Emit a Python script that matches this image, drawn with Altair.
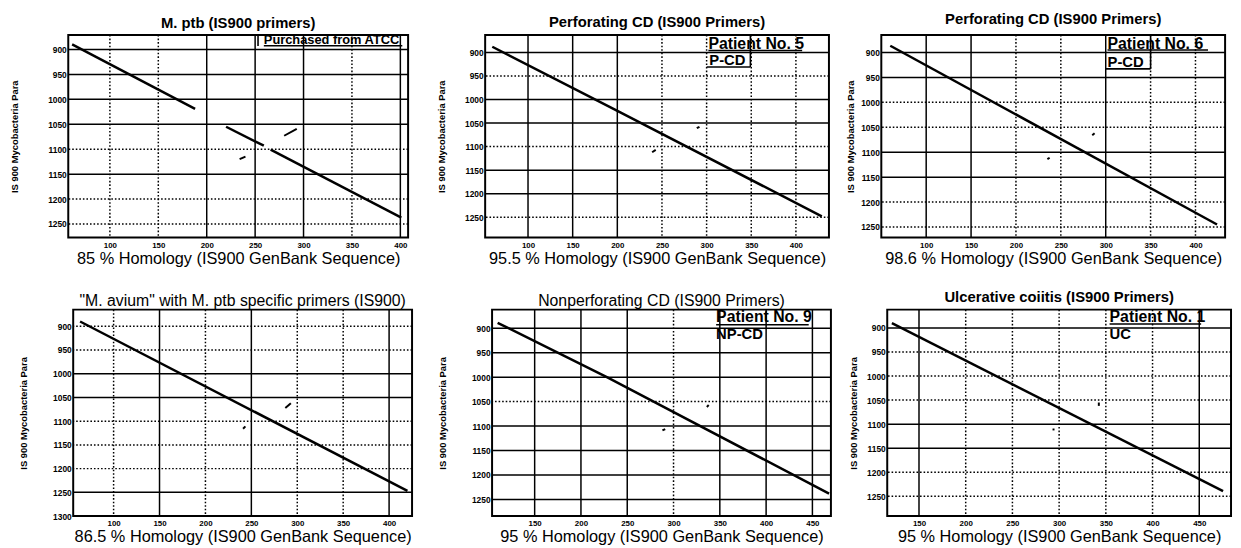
import altair as alt
import pandas as pd

FONT = "Liberation Sans"

# ---------------- data ----------------
TITLES = [
    "M. ptb (IS900 primers)",
    "Perforating CD (IS900 Primers)",
    "Perforating CD (IS900 Primers)",
    '"M. avium" with M. ptb specific primers (IS900)',
    "Nonperforating CD (IS900 Primers)",
    "Ulcerative coiitis (IS900 Primers)",
]
TITLE_WEIGHTS = ["bold", "bold", "bold", "normal", "normal", "bold"]
TITLE_SIZES = [15, 15, 15, 16, 16, 15]
XLABELS = [
    "85 % Homology (IS900 GenBank Sequence)",
    "95.5 % Homology (IS900 GenBank Sequence)",
    "98.6 % Homology (IS900 GenBank Sequence)",
    "86.5 % Homology (IS900 GenBank Sequence)",
    "95 % Homology (IS900 GenBank Sequence)",
    "95 % Homology (IS900 GenBank Sequence)",
]
YLABEL = "IS 900 Mycobacteria Para"

X_DOMAINS = [[57, 408], [52, 437], [50, 433], [56, 425], [104, 470], [116, 484]]
Y_DOMAINS = [[871, 1277], [863, 1293], [865, 1271], [865, 1300], [862, 1284], [862, 1291]]

XTICKS_A = [100, 150, 200, 250, 300, 350, 400]
XTICKS_B = [150, 200, 250, 300, 350, 400, 450]
YTICKS_A = [900, 950, 1000, 1050, 1100, 1150, 1200, 1250]
YTICKS_B = [900, 950, 1000, 1050, 1100, 1150, 1200, 1250, 1300]
XTICKS = [XTICKS_A, XTICKS_A, XTICKS_A, XTICKS_A, XTICKS_B, XTICKS_B]
YTICKS = [YTICKS_A, YTICKS_A, YTICKS_A, YTICKS_B, YTICKS_A, YTICKS_A]

# grid lines: solid / dotted
V_SOLID = [[200, 250, 300, 400], [100, 150, 200], [100, 150, 300], [150, 250, 400],
           [150, 200, 250, 350, 400, 450], [150, 450]]
V_DOTTED = [[100, 150, 350], [250, 300, 350, 400], [200, 250, 350, 400], [100, 200, 300, 350],
            [300], [200, 250, 300, 350, 400]]
H_SOLID = [[900, 950, 1000, 1050, 1150], [900, 1000, 1050, 1150, 1200], [900, 950, 1100, 1150],
           [1000, 1050, 1250], [900, 950, 1000, 1100, 1150, 1200, 1250], [900, 1100, 1150]]
H_DOTTED = [[1100, 1200, 1250], [950, 1100, 1250], [1000, 1050, 1200, 1250], [900, 950, 1100, 1150, 1200],
            [1050], [950, 1000, 1050, 1200, 1250]]

# main diagonal (x, y, segment id)
LINE_X = [[61, 188, 220, 259, 266, 401], [60, 199, 429], [60, 424], [63.5, 420],
          [110, 228, 468], [121, 475.5]]
LINE_Y = [[890, 1019, 1055, 1093, 1101, 1237], [888, 1023, 1248], [886.5, 1245], [890, 1247],
          [889, 1000, 1238], [890, 1239]]
LINE_SEG = [[0, 0, 1, 1, 2, 2], [0, 0, 0], [0, 0], [0, 0], [0, 0, 0], [0, 0]]

# short off-diagonal dashes
DASH_X1 = [[234, 280], [239, 289], [235, 285], [241, 287], [288, 336], [342.5, 294]]
DASH_Y1 = [[1120, 1073], [1112, 1061], [1114, 1066], [1116, 1072], [1109, 1061], [1055, 1109]]
DASH_X2 = [[240, 293], [243, 292], [237.5, 287.6], [243.5, 293], [291, 338], [342.5, 294]]
DASH_Y2 = [[1115, 1059], [1107, 1058], [1111, 1062], [1111, 1062], [1106, 1057], [1062, 1113]]

# annotation texts
ANN_TEXT = [["Purchased from ATCC"], ["Patient No. 5", "P-CD"], ["Patient No. 6", "P-CD"], [],
            ["Patient No. 9", "NP-CD"], ["Patient No. 1", "UC"]]
ANN_X = [[259], [302, 303], [302, 302], [], [346, 346], [354, 354]]
ANN_Y = [[882], [882, 917], [883, 918.7], [], [878, 912], [877, 912]]
ANN_SIZE = [[13], [16, 15], [16, 15], [], [16, 15], [16, 15]]
# annotation underline / box strokes
ANN_RX1 = [[259, 253], [302, 300, 349], [302, 300, 350], [], [346], [354]]
ANN_RY1 = [[892.6, 871], [896, 931, 863], [895, 933, 865], [], [893], [892]]
ANN_RX2 = [[402, 253], [407, 349, 349], [414, 350, 350], [], [446], [452]]
ANN_RY2 = [[892.6, 893], [896, 931, 931], [895, 933, 933], [], [893], [892]]

WIDTHS = [344, 348, 348, 343, 343, 348]
HEIGHTS = [205, 205, 205, 209, 209, 209]
Y_TITLE_PAD = [28, 18, 5.5, 24.5, 24, 8]
TITLE_OFFSETS = [3, 4, 7, 0, 0, 4]


def make_panel(i):
    xs = alt.Scale(domain=X_DOMAINS[i], nice=False, zero=False)
    ys = alt.Scale(domain=Y_DOMAINS[i], nice=False, zero=False, reverse=True)
    xaxis = alt.Axis(values=XTICKS[i], title=XLABELS[i], grid=False, ticks=False, domain=False,
                     format="d", labelFont=FONT, labelFontSize=8, labelFontWeight="bold",
                     labelColor="black", labelPadding=4, labelFlush=False,
                     titleFont=FONT, titleFontSize=16.5, titleFontWeight="normal",
                     titleColor="black", titlePadding=1)
    yaxis = alt.Axis(values=YTICKS[i], title=YLABEL, grid=False, ticks=False, domain=False,
                     format="d", labelFont=FONT, labelFontSize=8.5, labelFontWeight="bold",
                     labelColor="black", labelPadding=2, labelFlush=False,
                     titleFont=FONT, titleFontSize=9.5, titleFontWeight="bold",
                     titleColor="black", titlePadding=Y_TITLE_PAD[i])

    def X(f):
        return alt.X(f, scale=xs, axis=xaxis)

    def Y(f):
        return alt.Y(f, scale=ys, axis=yaxis)

    line_df = pd.DataFrame({"x": LINE_X[i], "y": LINE_Y[i], "seg": LINE_SEG[i]})
    layers = [alt.Chart(line_df).mark_line(color="black", strokeWidth=2.5).encode(
        x=X("x:Q"), y=Y("y:Q"), detail="seg:N")]
    for vals, dash in ((V_SOLID[i], None), (V_DOTTED[i], [1.6, 2])):
        if vals:
            m = alt.Chart(pd.DataFrame({"v": vals})).mark_rule(
                color="black", strokeWidth=1.5, **({"strokeDash": dash} if dash else {}))
            layers.append(m.encode(x=X("v:Q")))
    for vals, dash in ((H_SOLID[i], None), (H_DOTTED[i], [1.6, 2])):
        if vals:
            m = alt.Chart(pd.DataFrame({"v": vals})).mark_rule(
                color="black", strokeWidth=1.5, **({"strokeDash": dash} if dash else {}))
            layers.append(m.encode(y=Y("v:Q")))
    dash_df = pd.DataFrame({"x": DASH_X1[i], "y": DASH_Y1[i], "x2": DASH_X2[i], "y2": DASH_Y2[i]})
    layers.append(alt.Chart(dash_df).mark_rule(color="black", strokeWidth=2).encode(
        x=X("x:Q"), y=Y("y:Q"), x2="x2:Q", y2="y2:Q"))
    if ANN_RX1[i]:
        r_df = pd.DataFrame({"x": ANN_RX1[i], "y": ANN_RY1[i], "x2": ANN_RX2[i], "y2": ANN_RY2[i]})
        layers.append(alt.Chart(r_df).mark_rule(color="black", strokeWidth=1.6).encode(
            x=X("x:Q"), y=Y("y:Q"), x2="x2:Q", y2="y2:Q"))
    if ANN_TEXT[i]:
        t_df = pd.DataFrame({"x": ANN_X[i], "y": ANN_Y[i], "t": ANN_TEXT[i], "s": ANN_SIZE[i]})
        layers.append(alt.Chart(t_df).mark_text(font=FONT, fontWeight="bold", align="left",
                                                baseline="middle", color="black").encode(
            x=X("x:Q"), y=Y("y:Q"),
            text="t:N", size=alt.Size("s:Q", scale=None, legend=None)))
    return alt.layer(*layers).properties(
        width=WIDTHS[i], height=HEIGHTS[i],
        title=alt.TitleParams(TITLES[i], font=FONT, fontSize=TITLE_SIZES[i],
                              fontWeight=TITLE_WEIGHTS[i], color="black",
                              anchor="middle", offset=TITLE_OFFSETS[i]))


def spacer():
    return alt.Chart(pd.DataFrame({"a": [0]})).mark_point(opacity=0, size=0, strokeWidth=0).encode(
        x=alt.X("a:Q", axis=None), y=alt.Y("a:Q", axis=None)
    ).properties(width=1, height=1, view=alt.ViewBackground(strokeWidth=0, strokeOpacity=0))


p = [make_panel(i) for i in range(6)]
row1 = alt.hconcat(spacer(), alt.hconcat(p[0], alt.hconcat(p[1], p[2], spacing=13), spacing=26),
                   spacing=0)
row2 = alt.hconcat(spacer(), alt.hconcat(p[3], alt.hconcat(p[4], p[5], spacing=12), spacing=23),
                   spacing=8)

chart = alt.vconcat(row1, row2, spacing=21).properties(
    padding={"left": 0, "top": 0, "right": 0, "bottom": 0},
    background="white",
).configure_view(stroke="black", strokeWidth=2)

chart.save("out.html", embed_options={"renderer": "svg", "actions": False})
